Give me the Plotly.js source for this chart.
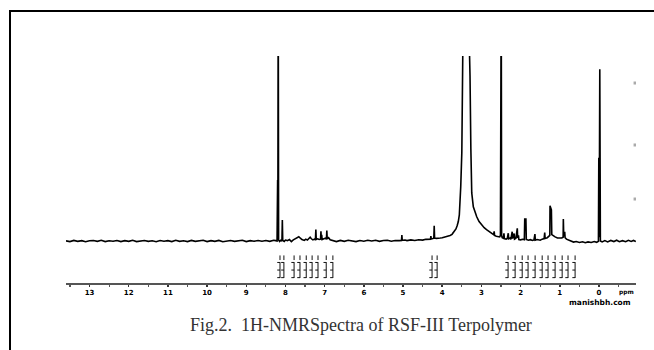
<!DOCTYPE html>
<html>
<head>
<meta charset="utf-8">
<script src="https://cdn.plot.ly/plotly-3.0.1.min.js"></script>
<style>html,body{margin:0;padding:0;background:#fff;overflow:hidden}#chart{width:654px;height:350px}</style>
</head>
<body>
<div id="chart"></div>
<script>
// Spectrum: chemical shift (ppm) and intensity (baseline = 0, clip level = 100)
const ppm = [13.6,13.5,13.4,13.3,13.2,13.1,13.0,12.9,12.8,12.7,12.6,12.5,12.4,12.3,12.2,12.1,12.0,11.9,11.8,11.7,11.6,11.5,11.4,11.3,11.2,11.1,11.0,10.9,10.8,10.7,10.6,10.5,10.4,10.3,10.2,10.1,10.0,9.9,9.8,9.7,9.6,9.5,9.4,9.3,9.2,9.1,9.0,8.9,8.8,8.7,8.6,8.5,8.4,8.3,8.25,
8.215,8.20,8.195,8.185,8.175,8.15,8.12,8.09,8.08,8.07,8.03,8.0,7.95,7.9,7.85,7.8,7.75,7.7,7.66,7.62,7.58,7.52,7.48,7.44,7.40,7.37,7.34,7.30,7.26,7.235,7.225,7.215,7.18,7.14,7.105,7.095,7.085,7.075,7.065,7.02,6.98,6.955,6.945,6.935,6.90,6.86,6.8,6.7,6.6,6.5,6.4,6.3,6.2,6.1,6.0,5.9,5.8,5.7,5.6,5.5,5.4,5.3,5.2,5.1,5.04,5.03,5.02,4.95,4.9,4.8,4.7,4.6,4.5,4.42,4.35,4.30,4.29,4.28,4.24,4.215,4.205,4.195,4.15,4.10,4.05,4.0,3.95,3.90,3.85,3.80,3.75,3.72,3.68,3.65,3.62,3.59,3.564,3.545,3.528,3.50,3.477,3.462,3.42,3.385,3.35,3.308,3.291,3.27,3.247,3.207,3.16,3.12,3.06,2.992,2.93,2.87,2.83,2.781,2.72,2.69,2.675,2.665,2.62,2.58,2.535,2.515,2.505,2.495,2.485,2.47,2.44,2.425,2.415,2.37,2.34,2.315,2.305,2.27,2.25,2.215,2.205,2.165,2.155,2.12,2.085,2.075,2.055,2.045,2.0,1.95,1.905,1.895,1.865,1.855,1.8,1.75,1.7,1.66,1.635,1.625,1.58,1.5,1.45,1.40,1.385,1.375,1.32,1.28,1.255,1.25,1.215,1.205,1.17,1.12,1.06,1.0,0.95,0.915,0.91,0.90,0.875,0.865,0.83,0.78,0.72,0.65,0.58,0.5,0.42,0.35,0.28,0.2,0.12,0.06,0.015,0.005,-0.005,-0.02,-0.035,-0.08,-0.15,-0.22,-0.3,-0.38,-0.45,-0.52,-0.6,-0.68,-0.75,-0.82,-0.88,-0.94];
const intensity = [0.1,-0.3,0.3,-0.2,0.2,-0.4,0.1,0.3,-0.2,0.4,-0.3,0.1,-0.1,0.3,-0.3,0.2,-0.2,0.4,-0.3,0.1,0.3,-0.2,0.1,-0.4,0.3,-0.1,0.2,-0.3,0.4,-0.2,0.1,-0.3,0.3,-0.2,0.1,0.4,-0.3,0.2,-0.2,0.3,-0.4,0.1,0.3,-0.2,0.1,0.4,-0.3,0.2,-0.1,0.3,-0.1,0.3,-0.2,0.4,0.2,
0,33,1,140,0.5,-0.3,0.4,0,11.4,0.3,-0.2,0.5,0.2,0.8,-0.3,0.6,1.2,1.8,2.3,1.5,0.8,0.3,1.0,0.5,1.6,2.0,1.2,0.6,1.0,0.8,6.2,0.9,1.2,0.8,1.0,5.2,1.5,3.4,0.8,1.2,1.5,0.9,5.6,1.2,1.8,0.7,0.2,-0.3,0.3,-0.2,0.4,0.1,-0.3,0.3,-0.1,0.4,0.0,0.4,-0.2,0.3,0.4,-0.1,0.3,0.2,0.3,3.2,0.4,0.5,0.2,0.6,0.3,0.7,0.5,0.9,0.8,1.0,2.6,1.1,1.3,1.5,8.2,1.6,1.4,1.3,1.6,1.8,2.0,2.3,2.6,3.0,3.6,4.3,5.3,6.5,8.2,10.5,14.1,20,29.4,48,77.5,105,200,300,200,105,89,50,26,18.5,15.5,13.1,10.5,8.6,7.2,6.2,5.6,5.0,4.0,3.5,5.2,3.0,2.6,2.4,2.2,3,140,140,3,1.8,1.5,4.2,1.3,1.0,1.4,4.2,1.2,1.6,0.9,5.0,1.3,4.0,1.0,1.5,6.9,1.6,3.0,0.8,0.6,0.9,0.7,11.9,11.9,0.8,0.4,0.7,0.3,0.6,3.7,0.5,0.8,0.4,1.0,1.3,4.5,1.4,1.8,2.4,3,19,16.8,3.5,2.8,2.2,1.6,1.4,1.6,2,11.9,2.5,5,1.8,1.0,0.5,-0.2,-0.6,-0.3,-0.8,-0.4,-0.9,-0.5,-0.8,-0.3,-0.7,-0.2,45,2,92.8,0,-0.5,0.2,-0.5,0.3,-0.3,0.4,-0.4,0.2,-0.4,0.4,-0.2,0.3,-0.3];

// Integration label columns (ppm positions)
const integralPpm = [8.14,8.04,7.78,7.63,7.47,7.32,7.17,6.96,6.79,4.26,4.13,2.32,2.14,1.96,1.81,1.63,1.45,1.30,1.12,0.94,0.79,0.61];

// Axis tick values
const tickValues = [0,1,2,3,4,5,6,7,8,9,10,11,12,13];
const tickLabels = tickValues.map(String);

// Right-edge faint markers (intensity levels)
const sideMarkPpm = [-0.92,-0.92,-0.92];
const sideMarkLevel = [85.4,51.9,22.7];

const captionText = "Fig.2.  1H-NMRSpectra of RSF-III Terpolymer";

// layout geometry (pixels)
const L = 66, R = 636, T = 56, B = 283, W = 654, H = 350;
const pw = R - L, ph = B - T;
const px = x => (x - L) / pw;
const py = y => (B - y) / ph;

// integration glyph segments
const gx = [], gy = [];
integralPpm.forEach(p => {
  gx.push(p, p, null); gy.push(-7.8, -10.3, null);
  gx.push(p, p, null); gy.push(-11.4, -20, null);
  [-11.6, -15.7, -19.8].forEach(v => { gx.push(p, p + 0.07, null); gy.push(v, v, null); });
});

const traces = [
  {x: ppm, y: intensity, type: 'scatter', mode: 'lines', line: {color: '#000', width: 1.6}, hoverinfo: 'skip'},
  {x: gx, y: gy, type: 'scatter', mode: 'lines', line: {color: '#111', width: 1}, hoverinfo: 'skip', cliponaxis: false},
  {x: sideMarkPpm, y: sideMarkLevel, type: 'scatter', mode: 'markers', marker: {symbol: 'square', size: 3, color: '#aaa'}, hoverinfo: 'skip'}
];

const layout = {
  width: W, height: H,
  margin: {l: L, r: W - R, t: T, b: H - B, pad: 0},
  paper_bgcolor: '#fff', plot_bgcolor: '#fff',
  showlegend: false,
  xaxis: {
    range: [13.60, -0.944],
    tickmode: 'array', tickvals: tickValues, ticktext: tickLabels,
    ticks: 'outside', ticklen: 2, tickwidth: 1.5, tickcolor: '#333',
    minor: {tickmode: 'linear', tick0: 0, dtick: 0.5, ticks: 'outside', ticklen: 2, tickwidth: 1.2, tickcolor: '#555'},
    showline: true, linecolor: '#555', linewidth: 1.5,
    showgrid: false, zeroline: false,
    tickfont: {family: 'DejaVu Sans', size: 7, color: '#000', weight: 'bold'}
  },
  yaxis: {range: [-22.7, 100], visible: false, showgrid: false, zeroline: false},
  annotations: [
    {text: captionText, xref: 'paper', yref: 'paper', x: px(361), y: py(325), xanchor: 'center', yanchor: 'middle', showarrow: false,
     font: {family: 'Liberation Serif', size: 18, color: '#333'}},
    {text: 'ppm', xref: 'paper', yref: 'paper', x: px(626), y: py(292), xanchor: 'center', yanchor: 'middle', showarrow: false,
     font: {family: 'DejaVu Sans', size: 6, color: '#000', weight: 'bold'}},
    {text: 'manishbh.com', xref: 'paper', yref: 'paper', x: px(600), y: py(302), xanchor: 'center', yanchor: 'middle', showarrow: false,
     font: {family: 'DejaVu Sans', size: 7.5, color: '#000', weight: 'bold'}}
  ],
  shapes: [
    {type: 'line', xref: 'paper', yref: 'paper', x0: px(10), x1: px(10), y0: py(10), y1: py(360), line: {color: '#000', width: 2}},
    {type: 'line', xref: 'paper', yref: 'paper', x0: px(9), x1: px(670), y0: py(11), y1: py(11), line: {color: '#000', width: 2}}
  ]
};

Plotly.newPlot('chart', traces, layout, {staticPlot: true, displayModeBar: false});
</script>
</body>
</html>
